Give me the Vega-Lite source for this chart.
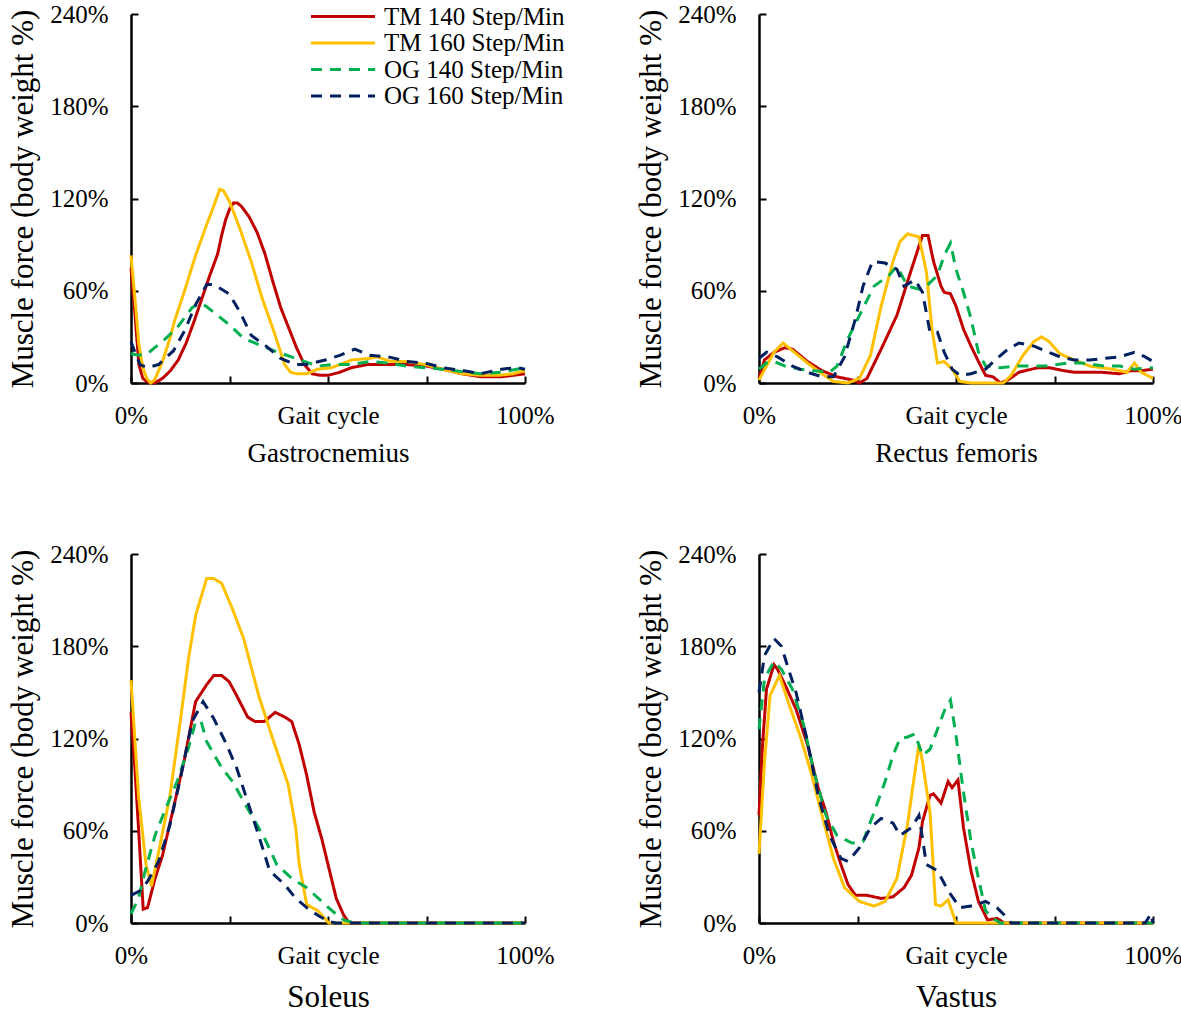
{
  "$schema": "https://vega.github.io/schema/vega-lite/v6.json",
  "padding": {"left": 7, "top": 2, "right": 0, "bottom": 0},
  "background": "white",
  "config": {
    "font": "Liberation Serif",
    "view": {"stroke": null},
    "axis": {"grid": false, "domainColor": "black", "domainWidth": 2.5, "tickColor": "black", "tickWidth": 2, "tickSize": -7, "labelFont": "Liberation Serif", "titleFont": "Liberation Serif", "labelColor": "black", "titleColor": "black", "titleFontWeight": "normal", "labelFontSize": 25, "labelOverlap": false, "labelBound": false, "labelFlush": false},
    "line": {"strokeWidth": 3}
  },
  "datasets": {
    "forces": [
      {"muscle":"Gastrocnemius","series":"TM 140 Step/Min","x":0,"y":75},{"muscle":"Gastrocnemius","series":"TM 140 Step/Min","x":1,"y":45},{"muscle":"Gastrocnemius","series":"TM 140 Step/Min","x":2,"y":12},{"muscle":"Gastrocnemius","series":"TM 140 Step/Min","x":3,"y":3},{"muscle":"Gastrocnemius","series":"TM 140 Step/Min","x":4,"y":1},{"muscle":"Gastrocnemius","series":"TM 140 Step/Min","x":5,"y":0},{"muscle":"Gastrocnemius","series":"TM 140 Step/Min","x":6,"y":0},{"muscle":"Gastrocnemius","series":"TM 140 Step/Min","x":8,"y":3},{"muscle":"Gastrocnemius","series":"TM 140 Step/Min","x":10,"y":8},{"muscle":"Gastrocnemius","series":"TM 140 Step/Min","x":12,"y":15},{"muscle":"Gastrocnemius","series":"TM 140 Step/Min","x":14,"y":26},{"muscle":"Gastrocnemius","series":"TM 140 Step/Min","x":16,"y":40},{"muscle":"Gastrocnemius","series":"TM 140 Step/Min","x":18,"y":55},{"muscle":"Gastrocnemius","series":"TM 140 Step/Min","x":20,"y":70},{"muscle":"Gastrocnemius","series":"TM 140 Step/Min","x":22,"y":84},{"muscle":"Gastrocnemius","series":"TM 140 Step/Min","x":23,"y":96},{"muscle":"Gastrocnemius","series":"TM 140 Step/Min","x":24,"y":106},{"muscle":"Gastrocnemius","series":"TM 140 Step/Min","x":25,"y":113},{"muscle":"Gastrocnemius","series":"TM 140 Step/Min","x":26,"y":117},{"muscle":"Gastrocnemius","series":"TM 140 Step/Min","x":27,"y":117},{"muscle":"Gastrocnemius","series":"TM 140 Step/Min","x":28,"y":115},{"muscle":"Gastrocnemius","series":"TM 140 Step/Min","x":30,"y":108},{"muscle":"Gastrocnemius","series":"TM 140 Step/Min","x":32,"y":98},{"muscle":"Gastrocnemius","series":"TM 140 Step/Min","x":34,"y":84},{"muscle":"Gastrocnemius","series":"TM 140 Step/Min","x":36,"y":66},{"muscle":"Gastrocnemius","series":"TM 140 Step/Min","x":38,"y":49},{"muscle":"Gastrocnemius","series":"TM 140 Step/Min","x":40,"y":36},{"muscle":"Gastrocnemius","series":"TM 140 Step/Min","x":42,"y":23},{"muscle":"Gastrocnemius","series":"TM 140 Step/Min","x":44,"y":12},{"muscle":"Gastrocnemius","series":"TM 140 Step/Min","x":46,"y":6},{"muscle":"Gastrocnemius","series":"TM 140 Step/Min","x":48,"y":5},{"muscle":"Gastrocnemius","series":"TM 140 Step/Min","x":50,"y":5},{"muscle":"Gastrocnemius","series":"TM 140 Step/Min","x":53,"y":7},{"muscle":"Gastrocnemius","series":"TM 140 Step/Min","x":56,"y":10},{"muscle":"Gastrocnemius","series":"TM 140 Step/Min","x":60,"y":12},{"muscle":"Gastrocnemius","series":"TM 140 Step/Min","x":65,"y":12},{"muscle":"Gastrocnemius","series":"TM 140 Step/Min","x":70,"y":12},{"muscle":"Gastrocnemius","series":"TM 140 Step/Min","x":75,"y":11},{"muscle":"Gastrocnemius","series":"TM 140 Step/Min","x":79,"y":9},{"muscle":"Gastrocnemius","series":"TM 140 Step/Min","x":84,"y":6},{"muscle":"Gastrocnemius","series":"TM 140 Step/Min","x":89,"y":4},{"muscle":"Gastrocnemius","series":"TM 140 Step/Min","x":94,"y":4},{"muscle":"Gastrocnemius","series":"TM 140 Step/Min","x":97,"y":5},{"muscle":"Gastrocnemius","series":"TM 140 Step/Min","x":100,"y":6},
      {"muscle":"Gastrocnemius","series":"TM 160 Step/Min","x":0,"y":83},{"muscle":"Gastrocnemius","series":"TM 160 Step/Min","x":1,"y":55},{"muscle":"Gastrocnemius","series":"TM 160 Step/Min","x":2,"y":25},{"muscle":"Gastrocnemius","series":"TM 160 Step/Min","x":3,"y":10},{"muscle":"Gastrocnemius","series":"TM 160 Step/Min","x":4,"y":3},{"muscle":"Gastrocnemius","series":"TM 160 Step/Min","x":5,"y":0},{"muscle":"Gastrocnemius","series":"TM 160 Step/Min","x":6,"y":2},{"muscle":"Gastrocnemius","series":"TM 160 Step/Min","x":8,"y":14},{"muscle":"Gastrocnemius","series":"TM 160 Step/Min","x":10,"y":30},{"muscle":"Gastrocnemius","series":"TM 160 Step/Min","x":11,"y":40},{"muscle":"Gastrocnemius","series":"TM 160 Step/Min","x":13.6,"y":60},{"muscle":"Gastrocnemius","series":"TM 160 Step/Min","x":16.4,"y":83},{"muscle":"Gastrocnemius","series":"TM 160 Step/Min","x":19.2,"y":103},{"muscle":"Gastrocnemius","series":"TM 160 Step/Min","x":21,"y":115},{"muscle":"Gastrocnemius","series":"TM 160 Step/Min","x":22.5,"y":126},{"muscle":"Gastrocnemius","series":"TM 160 Step/Min","x":23.5,"y":125},{"muscle":"Gastrocnemius","series":"TM 160 Step/Min","x":25,"y":118},{"muscle":"Gastrocnemius","series":"TM 160 Step/Min","x":27.7,"y":100},{"muscle":"Gastrocnemius","series":"TM 160 Step/Min","x":30.5,"y":79},{"muscle":"Gastrocnemius","series":"TM 160 Step/Min","x":33.3,"y":55},{"muscle":"Gastrocnemius","series":"TM 160 Step/Min","x":36.2,"y":34},{"muscle":"Gastrocnemius","series":"TM 160 Step/Min","x":39,"y":12},{"muscle":"Gastrocnemius","series":"TM 160 Step/Min","x":40.5,"y":7},{"muscle":"Gastrocnemius","series":"TM 160 Step/Min","x":42,"y":6},{"muscle":"Gastrocnemius","series":"TM 160 Step/Min","x":44.6,"y":6},{"muscle":"Gastrocnemius","series":"TM 160 Step/Min","x":47.4,"y":9},{"muscle":"Gastrocnemius","series":"TM 160 Step/Min","x":51,"y":10},{"muscle":"Gastrocnemius","series":"TM 160 Step/Min","x":56,"y":15},{"muscle":"Gastrocnemius","series":"TM 160 Step/Min","x":60.6,"y":16},{"muscle":"Gastrocnemius","series":"TM 160 Step/Min","x":62.4,"y":17},{"muscle":"Gastrocnemius","series":"TM 160 Step/Min","x":66,"y":14},{"muscle":"Gastrocnemius","series":"TM 160 Step/Min","x":70,"y":14},{"muscle":"Gastrocnemius","series":"TM 160 Step/Min","x":74.6,"y":12},{"muscle":"Gastrocnemius","series":"TM 160 Step/Min","x":79,"y":9},{"muscle":"Gastrocnemius","series":"TM 160 Step/Min","x":84,"y":6},{"muscle":"Gastrocnemius","series":"TM 160 Step/Min","x":88.7,"y":5},{"muscle":"Gastrocnemius","series":"TM 160 Step/Min","x":93.4,"y":5},{"muscle":"Gastrocnemius","series":"TM 160 Step/Min","x":97,"y":6},{"muscle":"Gastrocnemius","series":"TM 160 Step/Min","x":100,"y":8},
      {"muscle":"Gastrocnemius","series":"OG 140 Step/Min","x":0,"y":19},{"muscle":"Gastrocnemius","series":"OG 140 Step/Min","x":2,"y":18},{"muscle":"Gastrocnemius","series":"OG 140 Step/Min","x":4.2,"y":19},{"muscle":"Gastrocnemius","series":"OG 140 Step/Min","x":6,"y":23},{"muscle":"Gastrocnemius","series":"OG 140 Step/Min","x":8,"y":27},{"muscle":"Gastrocnemius","series":"OG 140 Step/Min","x":11.7,"y":36},{"muscle":"Gastrocnemius","series":"OG 140 Step/Min","x":15.5,"y":49},{"muscle":"Gastrocnemius","series":"OG 140 Step/Min","x":17.4,"y":52},{"muscle":"Gastrocnemius","series":"OG 140 Step/Min","x":19,"y":50},{"muscle":"Gastrocnemius","series":"OG 140 Step/Min","x":21,"y":46},{"muscle":"Gastrocnemius","series":"OG 140 Step/Min","x":24.9,"y":38},{"muscle":"Gastrocnemius","series":"OG 140 Step/Min","x":28.6,"y":29},{"muscle":"Gastrocnemius","series":"OG 140 Step/Min","x":32.4,"y":25},{"muscle":"Gastrocnemius","series":"OG 140 Step/Min","x":36.2,"y":21},{"muscle":"Gastrocnemius","series":"OG 140 Step/Min","x":41.8,"y":16},{"muscle":"Gastrocnemius","series":"OG 140 Step/Min","x":47.4,"y":11},{"muscle":"Gastrocnemius","series":"OG 140 Step/Min","x":51,"y":12},{"muscle":"Gastrocnemius","series":"OG 140 Step/Min","x":56,"y":12},{"muscle":"Gastrocnemius","series":"OG 140 Step/Min","x":60.6,"y":14},{"muscle":"Gastrocnemius","series":"OG 140 Step/Min","x":65,"y":13},{"muscle":"Gastrocnemius","series":"OG 140 Step/Min","x":70,"y":11},{"muscle":"Gastrocnemius","series":"OG 140 Step/Min","x":79,"y":9},{"muscle":"Gastrocnemius","series":"OG 140 Step/Min","x":88.7,"y":6},{"muscle":"Gastrocnemius","series":"OG 140 Step/Min","x":94,"y":7},{"muscle":"Gastrocnemius","series":"OG 140 Step/Min","x":100,"y":10},
      {"muscle":"Gastrocnemius","series":"OG 160 Step/Min","x":0,"y":27},{"muscle":"Gastrocnemius","series":"OG 160 Step/Min","x":1,"y":20},{"muscle":"Gastrocnemius","series":"OG 160 Step/Min","x":2.3,"y":12},{"muscle":"Gastrocnemius","series":"OG 160 Step/Min","x":4.2,"y":10},{"muscle":"Gastrocnemius","series":"OG 160 Step/Min","x":7,"y":12},{"muscle":"Gastrocnemius","series":"OG 160 Step/Min","x":10.8,"y":21},{"muscle":"Gastrocnemius","series":"OG 160 Step/Min","x":13.6,"y":34},{"muscle":"Gastrocnemius","series":"OG 160 Step/Min","x":16.4,"y":51},{"muscle":"Gastrocnemius","series":"OG 160 Step/Min","x":19.2,"y":64},{"muscle":"Gastrocnemius","series":"OG 160 Step/Min","x":21,"y":64},{"muscle":"Gastrocnemius","series":"OG 160 Step/Min","x":23,"y":61},{"muscle":"Gastrocnemius","series":"OG 160 Step/Min","x":24.9,"y":58},{"muscle":"Gastrocnemius","series":"OG 160 Step/Min","x":27.7,"y":46},{"muscle":"Gastrocnemius","series":"OG 160 Step/Min","x":30.5,"y":31},{"muscle":"Gastrocnemius","series":"OG 160 Step/Min","x":34.3,"y":24},{"muscle":"Gastrocnemius","series":"OG 160 Step/Min","x":38,"y":16},{"muscle":"Gastrocnemius","series":"OG 160 Step/Min","x":41.8,"y":12},{"muscle":"Gastrocnemius","series":"OG 160 Step/Min","x":44.6,"y":12},{"muscle":"Gastrocnemius","series":"OG 160 Step/Min","x":49.3,"y":15},{"muscle":"Gastrocnemius","series":"OG 160 Step/Min","x":53,"y":18},{"muscle":"Gastrocnemius","series":"OG 160 Step/Min","x":56.8,"y":22},{"muscle":"Gastrocnemius","series":"OG 160 Step/Min","x":60.6,"y":18},{"muscle":"Gastrocnemius","series":"OG 160 Step/Min","x":65.3,"y":17},{"muscle":"Gastrocnemius","series":"OG 160 Step/Min","x":70,"y":14},{"muscle":"Gastrocnemius","series":"OG 160 Step/Min","x":74.6,"y":13},{"muscle":"Gastrocnemius","series":"OG 160 Step/Min","x":79,"y":10},{"muscle":"Gastrocnemius","series":"OG 160 Step/Min","x":84.5,"y":8},{"muscle":"Gastrocnemius","series":"OG 160 Step/Min","x":88.7,"y":6},{"muscle":"Gastrocnemius","series":"OG 160 Step/Min","x":94,"y":9},{"muscle":"Gastrocnemius","series":"OG 160 Step/Min","x":98,"y":10},{"muscle":"Gastrocnemius","series":"OG 160 Step/Min","x":100,"y":9},

      {"muscle":"Rectus femoris","series":"TM 140 Step/Min","x":0,"y":3},{"muscle":"Rectus femoris","series":"TM 140 Step/Min","x":1.4,"y":15},{"muscle":"Rectus femoris","series":"TM 140 Step/Min","x":3.8,"y":20},{"muscle":"Rectus femoris","series":"TM 140 Step/Min","x":6.6,"y":23},{"muscle":"Rectus femoris","series":"TM 140 Step/Min","x":8.5,"y":22},{"muscle":"Rectus femoris","series":"TM 140 Step/Min","x":12.3,"y":14},{"muscle":"Rectus femoris","series":"TM 140 Step/Min","x":16,"y":8},{"muscle":"Rectus femoris","series":"TM 140 Step/Min","x":19.8,"y":4},{"muscle":"Rectus femoris","series":"TM 140 Step/Min","x":23.6,"y":2},{"muscle":"Rectus femoris","series":"TM 140 Step/Min","x":25.5,"y":0},{"muscle":"Rectus femoris","series":"TM 140 Step/Min","x":27.4,"y":3},{"muscle":"Rectus femoris","series":"TM 140 Step/Min","x":31,"y":22},{"muscle":"Rectus femoris","series":"TM 140 Step/Min","x":35,"y":44},{"muscle":"Rectus femoris","series":"TM 140 Step/Min","x":38.7,"y":74},{"muscle":"Rectus femoris","series":"TM 140 Step/Min","x":40.6,"y":89},{"muscle":"Rectus femoris","series":"TM 140 Step/Min","x":41.5,"y":96},{"muscle":"Rectus femoris","series":"TM 140 Step/Min","x":42.9,"y":96},{"muscle":"Rectus femoris","series":"TM 140 Step/Min","x":44.3,"y":79},{"muscle":"Rectus femoris","series":"TM 140 Step/Min","x":46.2,"y":63},{"muscle":"Rectus femoris","series":"TM 140 Step/Min","x":47,"y":59},{"muscle":"Rectus femoris","series":"TM 140 Step/Min","x":48.6,"y":58},{"muscle":"Rectus femoris","series":"TM 140 Step/Min","x":50,"y":50},{"muscle":"Rectus femoris","series":"TM 140 Step/Min","x":51.9,"y":35},{"muscle":"Rectus femoris","series":"TM 140 Step/Min","x":53.8,"y":24},{"muscle":"Rectus femoris","series":"TM 140 Step/Min","x":55.7,"y":14},{"muscle":"Rectus femoris","series":"TM 140 Step/Min","x":57.5,"y":5},{"muscle":"Rectus femoris","series":"TM 140 Step/Min","x":59.4,"y":4},{"muscle":"Rectus femoris","series":"TM 140 Step/Min","x":61.3,"y":0},{"muscle":"Rectus femoris","series":"TM 140 Step/Min","x":63.2,"y":2},{"muscle":"Rectus femoris","series":"TM 140 Step/Min","x":66,"y":7},{"muscle":"Rectus femoris","series":"TM 140 Step/Min","x":70.8,"y":10},{"muscle":"Rectus femoris","series":"TM 140 Step/Min","x":73.6,"y":10},{"muscle":"Rectus femoris","series":"TM 140 Step/Min","x":77.4,"y":8},{"muscle":"Rectus femoris","series":"TM 140 Step/Min","x":80,"y":7},{"muscle":"Rectus femoris","series":"TM 140 Step/Min","x":86.8,"y":7},{"muscle":"Rectus femoris","series":"TM 140 Step/Min","x":91.5,"y":6},{"muscle":"Rectus femoris","series":"TM 140 Step/Min","x":94.3,"y":8},{"muscle":"Rectus femoris","series":"TM 140 Step/Min","x":97,"y":8},{"muscle":"Rectus femoris","series":"TM 140 Step/Min","x":100,"y":9},
      {"muscle":"Rectus femoris","series":"TM 160 Step/Min","x":0,"y":2},{"muscle":"Rectus femoris","series":"TM 160 Step/Min","x":1.9,"y":11},{"muscle":"Rectus femoris","series":"TM 160 Step/Min","x":3.8,"y":20},{"muscle":"Rectus femoris","series":"TM 160 Step/Min","x":6.1,"y":26},{"muscle":"Rectus femoris","series":"TM 160 Step/Min","x":8.5,"y":21},{"muscle":"Rectus femoris","series":"TM 160 Step/Min","x":12.3,"y":13},{"muscle":"Rectus femoris","series":"TM 160 Step/Min","x":16,"y":6},{"muscle":"Rectus femoris","series":"TM 160 Step/Min","x":18.9,"y":1},{"muscle":"Rectus femoris","series":"TM 160 Step/Min","x":22.6,"y":0},{"muscle":"Rectus femoris","series":"TM 160 Step/Min","x":25.5,"y":3},{"muscle":"Rectus femoris","series":"TM 160 Step/Min","x":28.3,"y":18},{"muscle":"Rectus femoris","series":"TM 160 Step/Min","x":31,"y":50},{"muscle":"Rectus femoris","series":"TM 160 Step/Min","x":34,"y":79},{"muscle":"Rectus femoris","series":"TM 160 Step/Min","x":35.8,"y":92},{"muscle":"Rectus femoris","series":"TM 160 Step/Min","x":37.7,"y":97},{"muscle":"Rectus femoris","series":"TM 160 Step/Min","x":40.6,"y":95},{"muscle":"Rectus femoris","series":"TM 160 Step/Min","x":42.5,"y":72},{"muscle":"Rectus femoris","series":"TM 160 Step/Min","x":43.9,"y":35},{"muscle":"Rectus femoris","series":"TM 160 Step/Min","x":45.3,"y":13},{"muscle":"Rectus femoris","series":"TM 160 Step/Min","x":47,"y":14},{"muscle":"Rectus femoris","series":"TM 160 Step/Min","x":49,"y":9},{"muscle":"Rectus femoris","series":"TM 160 Step/Min","x":51,"y":1},{"muscle":"Rectus femoris","series":"TM 160 Step/Min","x":53.8,"y":0},{"muscle":"Rectus femoris","series":"TM 160 Step/Min","x":62,"y":0},{"muscle":"Rectus femoris","series":"TM 160 Step/Min","x":64,"y":5},{"muscle":"Rectus femoris","series":"TM 160 Step/Min","x":67,"y":18},{"muscle":"Rectus femoris","series":"TM 160 Step/Min","x":69.8,"y":27},{"muscle":"Rectus femoris","series":"TM 160 Step/Min","x":71.7,"y":30},{"muscle":"Rectus femoris","series":"TM 160 Step/Min","x":73.6,"y":27},{"muscle":"Rectus femoris","series":"TM 160 Step/Min","x":76.4,"y":19},{"muscle":"Rectus femoris","series":"TM 160 Step/Min","x":80,"y":15},{"muscle":"Rectus femoris","series":"TM 160 Step/Min","x":84,"y":11},{"muscle":"Rectus femoris","series":"TM 160 Step/Min","x":89.6,"y":9},{"muscle":"Rectus femoris","series":"TM 160 Step/Min","x":93.4,"y":7},{"muscle":"Rectus femoris","series":"TM 160 Step/Min","x":95.3,"y":13},{"muscle":"Rectus femoris","series":"TM 160 Step/Min","x":97,"y":7},{"muscle":"Rectus femoris","series":"TM 160 Step/Min","x":100,"y":3},
      {"muscle":"Rectus femoris","series":"OG 140 Step/Min","x":0,"y":9},{"muscle":"Rectus femoris","series":"OG 140 Step/Min","x":1.9,"y":13},{"muscle":"Rectus femoris","series":"OG 140 Step/Min","x":3.8,"y":14},{"muscle":"Rectus femoris","series":"OG 140 Step/Min","x":6.6,"y":11},{"muscle":"Rectus femoris","series":"OG 140 Step/Min","x":10.4,"y":9},{"muscle":"Rectus femoris","series":"OG 140 Step/Min","x":14,"y":8},{"muscle":"Rectus femoris","series":"OG 140 Step/Min","x":17.9,"y":7},{"muscle":"Rectus femoris","series":"OG 140 Step/Min","x":19.8,"y":11},{"muscle":"Rectus femoris","series":"OG 140 Step/Min","x":22.6,"y":29},{"muscle":"Rectus femoris","series":"OG 140 Step/Min","x":25.5,"y":44},{"muscle":"Rectus femoris","series":"OG 140 Step/Min","x":29.2,"y":63},{"muscle":"Rectus femoris","series":"OG 140 Step/Min","x":33,"y":70},{"muscle":"Rectus femoris","series":"OG 140 Step/Min","x":35,"y":76},{"muscle":"Rectus femoris","series":"OG 140 Step/Min","x":37.7,"y":63},{"muscle":"Rectus femoris","series":"OG 140 Step/Min","x":40.6,"y":61},{"muscle":"Rectus femoris","series":"OG 140 Step/Min","x":42.5,"y":63},{"muscle":"Rectus femoris","series":"OG 140 Step/Min","x":45.3,"y":70},{"muscle":"Rectus femoris","series":"OG 140 Step/Min","x":47,"y":83},{"muscle":"Rectus femoris","series":"OG 140 Step/Min","x":48.6,"y":91},{"muscle":"Rectus femoris","series":"OG 140 Step/Min","x":50,"y":74},{"muscle":"Rectus femoris","series":"OG 140 Step/Min","x":51.9,"y":59},{"muscle":"Rectus femoris","series":"OG 140 Step/Min","x":53.8,"y":42},{"muscle":"Rectus femoris","series":"OG 140 Step/Min","x":55.7,"y":20},{"muscle":"Rectus femoris","series":"OG 140 Step/Min","x":57.5,"y":11},{"muscle":"Rectus femoris","series":"OG 140 Step/Min","x":61.3,"y":10},{"muscle":"Rectus femoris","series":"OG 140 Step/Min","x":65,"y":11},{"muscle":"Rectus femoris","series":"OG 140 Step/Min","x":72.6,"y":11},{"muscle":"Rectus femoris","series":"OG 140 Step/Min","x":78.3,"y":13},{"muscle":"Rectus femoris","series":"OG 140 Step/Min","x":82,"y":13},{"muscle":"Rectus femoris","series":"OG 140 Step/Min","x":87.7,"y":11},{"muscle":"Rectus femoris","series":"OG 140 Step/Min","x":91.5,"y":11},{"muscle":"Rectus femoris","series":"OG 140 Step/Min","x":95.3,"y":9},{"muscle":"Rectus femoris","series":"OG 140 Step/Min","x":100,"y":10},
      {"muscle":"Rectus femoris","series":"OG 160 Step/Min","x":0,"y":16},{"muscle":"Rectus femoris","series":"OG 160 Step/Min","x":1.9,"y":20},{"muscle":"Rectus femoris","series":"OG 160 Step/Min","x":4.7,"y":17},{"muscle":"Rectus femoris","series":"OG 160 Step/Min","x":8.5,"y":11},{"muscle":"Rectus femoris","series":"OG 160 Step/Min","x":12.3,"y":7},{"muscle":"Rectus femoris","series":"OG 160 Step/Min","x":16,"y":4},{"muscle":"Rectus femoris","series":"OG 160 Step/Min","x":18.9,"y":4},{"muscle":"Rectus femoris","series":"OG 160 Step/Min","x":21.7,"y":17},{"muscle":"Rectus femoris","series":"OG 160 Step/Min","x":24.5,"y":42},{"muscle":"Rectus femoris","series":"OG 160 Step/Min","x":26.4,"y":63},{"muscle":"Rectus femoris","series":"OG 160 Step/Min","x":28.8,"y":79},{"muscle":"Rectus femoris","series":"OG 160 Step/Min","x":32,"y":78},{"muscle":"Rectus femoris","series":"OG 160 Step/Min","x":35,"y":74},{"muscle":"Rectus femoris","series":"OG 160 Step/Min","x":36.8,"y":63},{"muscle":"Rectus femoris","series":"OG 160 Step/Min","x":39.6,"y":67},{"muscle":"Rectus femoris","series":"OG 160 Step/Min","x":41.5,"y":59},{"muscle":"Rectus femoris","series":"OG 160 Step/Min","x":43.4,"y":33},{"muscle":"Rectus femoris","series":"OG 160 Step/Min","x":45.3,"y":33},{"muscle":"Rectus femoris","series":"OG 160 Step/Min","x":47,"y":20},{"muscle":"Rectus femoris","series":"OG 160 Step/Min","x":49,"y":9},{"muscle":"Rectus femoris","series":"OG 160 Step/Min","x":51,"y":5},{"muscle":"Rectus femoris","series":"OG 160 Step/Min","x":53.8,"y":6},{"muscle":"Rectus femoris","series":"OG 160 Step/Min","x":57.5,"y":9},{"muscle":"Rectus femoris","series":"OG 160 Step/Min","x":60.4,"y":16},{"muscle":"Rectus femoris","series":"OG 160 Step/Min","x":63.2,"y":22},{"muscle":"Rectus femoris","series":"OG 160 Step/Min","x":66,"y":26},{"muscle":"Rectus femoris","series":"OG 160 Step/Min","x":69.8,"y":24},{"muscle":"Rectus femoris","series":"OG 160 Step/Min","x":72.6,"y":21},{"muscle":"Rectus femoris","series":"OG 160 Step/Min","x":76.4,"y":17},{"muscle":"Rectus femoris","series":"OG 160 Step/Min","x":80,"y":15},{"muscle":"Rectus femoris","series":"OG 160 Step/Min","x":84,"y":15},{"muscle":"Rectus femoris","series":"OG 160 Step/Min","x":87.7,"y":16},{"muscle":"Rectus femoris","series":"OG 160 Step/Min","x":91.5,"y":17},{"muscle":"Rectus femoris","series":"OG 160 Step/Min","x":95.3,"y":20},{"muscle":"Rectus femoris","series":"OG 160 Step/Min","x":98,"y":17},{"muscle":"Rectus femoris","series":"OG 160 Step/Min","x":100,"y":14},

      {"muscle":"Soleus","series":"TM 140 Step/Min","x":0,"y":137},{"muscle":"Soleus","series":"TM 140 Step/Min","x":1,"y":100},{"muscle":"Soleus","series":"TM 140 Step/Min","x":1.9,"y":62},{"muscle":"Soleus","series":"TM 140 Step/Min","x":3.1,"y":9},{"muscle":"Soleus","series":"TM 140 Step/Min","x":4.2,"y":10},{"muscle":"Soleus","series":"TM 140 Step/Min","x":6.1,"y":29},{"muscle":"Soleus","series":"TM 140 Step/Min","x":8,"y":44},{"muscle":"Soleus","series":"TM 140 Step/Min","x":10.8,"y":75},{"muscle":"Soleus","series":"TM 140 Step/Min","x":13.6,"y":107},{"muscle":"Soleus","series":"TM 140 Step/Min","x":16.4,"y":144},{"muscle":"Soleus","series":"TM 140 Step/Min","x":19.2,"y":155},{"muscle":"Soleus","series":"TM 140 Step/Min","x":21,"y":161},{"muscle":"Soleus","series":"TM 140 Step/Min","x":23,"y":161},{"muscle":"Soleus","series":"TM 140 Step/Min","x":24.9,"y":157},{"muscle":"Soleus","series":"TM 140 Step/Min","x":26.8,"y":148},{"muscle":"Soleus","series":"TM 140 Step/Min","x":29.6,"y":134},{"muscle":"Soleus","series":"TM 140 Step/Min","x":31.5,"y":131},{"muscle":"Soleus","series":"TM 140 Step/Min","x":33.8,"y":131},{"muscle":"Soleus","series":"TM 140 Step/Min","x":36.6,"y":137},{"muscle":"Soleus","series":"TM 140 Step/Min","x":39,"y":134},{"muscle":"Soleus","series":"TM 140 Step/Min","x":40.8,"y":131},{"muscle":"Soleus","series":"TM 140 Step/Min","x":42.7,"y":116},{"muscle":"Soleus","series":"TM 140 Step/Min","x":44.6,"y":96},{"muscle":"Soleus","series":"TM 140 Step/Min","x":46.5,"y":72},{"muscle":"Soleus","series":"TM 140 Step/Min","x":48.4,"y":55},{"muscle":"Soleus","series":"TM 140 Step/Min","x":50.2,"y":36},{"muscle":"Soleus","series":"TM 140 Step/Min","x":52.1,"y":16},{"muscle":"Soleus","series":"TM 140 Step/Min","x":54,"y":5},{"muscle":"Soleus","series":"TM 140 Step/Min","x":55.4,"y":0},{"muscle":"Soleus","series":"TM 140 Step/Min","x":100,"y":0},
      {"muscle":"Soleus","series":"TM 160 Step/Min","x":0,"y":158},{"muscle":"Soleus","series":"TM 160 Step/Min","x":1.9,"y":83},{"muscle":"Soleus","series":"TM 160 Step/Min","x":3.8,"y":38},{"muscle":"Soleus","series":"TM 160 Step/Min","x":5.2,"y":24},{"muscle":"Soleus","series":"TM 160 Step/Min","x":7,"y":46},{"muscle":"Soleus","series":"TM 160 Step/Min","x":9.9,"y":83},{"muscle":"Soleus","series":"TM 160 Step/Min","x":12.7,"y":135},{"muscle":"Soleus","series":"TM 160 Step/Min","x":14.6,"y":172},{"muscle":"Soleus","series":"TM 160 Step/Min","x":16.4,"y":200},{"muscle":"Soleus","series":"TM 160 Step/Min","x":19.2,"y":224},{"muscle":"Soleus","series":"TM 160 Step/Min","x":21,"y":224},{"muscle":"Soleus","series":"TM 160 Step/Min","x":23,"y":221},{"muscle":"Soleus","series":"TM 160 Step/Min","x":25.8,"y":204},{"muscle":"Soleus","series":"TM 160 Step/Min","x":28.6,"y":185},{"muscle":"Soleus","series":"TM 160 Step/Min","x":32.4,"y":148},{"muscle":"Soleus","series":"TM 160 Step/Min","x":36.2,"y":118},{"muscle":"Soleus","series":"TM 160 Step/Min","x":39.9,"y":90},{"muscle":"Soleus","series":"TM 160 Step/Min","x":41.8,"y":62},{"muscle":"Soleus","series":"TM 160 Step/Min","x":42.7,"y":38},{"muscle":"Soleus","series":"TM 160 Step/Min","x":44.6,"y":12},{"muscle":"Soleus","series":"TM 160 Step/Min","x":47.4,"y":8},{"muscle":"Soleus","series":"TM 160 Step/Min","x":50.2,"y":0},{"muscle":"Soleus","series":"TM 160 Step/Min","x":100,"y":0},
      {"muscle":"Soleus","series":"OG 140 Step/Min","x":0,"y":6},{"muscle":"Soleus","series":"OG 140 Step/Min","x":1.9,"y":16},{"muscle":"Soleus","series":"OG 140 Step/Min","x":3.3,"y":31},{"muscle":"Soleus","series":"OG 140 Step/Min","x":6.1,"y":57},{"muscle":"Soleus","series":"OG 140 Step/Min","x":8.9,"y":75},{"muscle":"Soleus","series":"OG 140 Step/Min","x":11.7,"y":92},{"muscle":"Soleus","series":"OG 140 Step/Min","x":14.6,"y":114},{"muscle":"Soleus","series":"OG 140 Step/Min","x":16.4,"y":131},{"muscle":"Soleus","series":"OG 140 Step/Min","x":17.8,"y":131},{"muscle":"Soleus","series":"OG 140 Step/Min","x":19.2,"y":118},{"muscle":"Soleus","series":"OG 140 Step/Min","x":23,"y":101},{"muscle":"Soleus","series":"OG 140 Step/Min","x":25.8,"y":92},{"muscle":"Soleus","series":"OG 140 Step/Min","x":28.6,"y":79},{"muscle":"Soleus","series":"OG 140 Step/Min","x":31.5,"y":66},{"muscle":"Soleus","series":"OG 140 Step/Min","x":34.3,"y":53},{"muscle":"Soleus","series":"OG 140 Step/Min","x":37,"y":38},{"muscle":"Soleus","series":"OG 140 Step/Min","x":40.8,"y":29},{"muscle":"Soleus","series":"OG 140 Step/Min","x":44.6,"y":23},{"muscle":"Soleus","series":"OG 140 Step/Min","x":48.4,"y":14},{"muscle":"Soleus","series":"OG 140 Step/Min","x":51,"y":8},{"muscle":"Soleus","series":"OG 140 Step/Min","x":54,"y":2},{"muscle":"Soleus","series":"OG 140 Step/Min","x":56.8,"y":0},{"muscle":"Soleus","series":"OG 140 Step/Min","x":100,"y":0},
      {"muscle":"Soleus","series":"OG 160 Step/Min","x":0,"y":18},{"muscle":"Soleus","series":"OG 160 Step/Min","x":2.3,"y":21},{"muscle":"Soleus","series":"OG 160 Step/Min","x":4.2,"y":27},{"muscle":"Soleus","series":"OG 160 Step/Min","x":7,"y":40},{"muscle":"Soleus","series":"OG 160 Step/Min","x":9.9,"y":64},{"muscle":"Soleus","series":"OG 160 Step/Min","x":12.7,"y":96},{"muscle":"Soleus","series":"OG 160 Step/Min","x":15.5,"y":131},{"muscle":"Soleus","series":"OG 160 Step/Min","x":18.3,"y":144},{"muscle":"Soleus","series":"OG 160 Step/Min","x":21,"y":133},{"muscle":"Soleus","series":"OG 160 Step/Min","x":23.9,"y":118},{"muscle":"Soleus","series":"OG 160 Step/Min","x":26.8,"y":101},{"muscle":"Soleus","series":"OG 160 Step/Min","x":29.6,"y":79},{"muscle":"Soleus","series":"OG 160 Step/Min","x":32.4,"y":57},{"muscle":"Soleus","series":"OG 160 Step/Min","x":35.2,"y":34},{"muscle":"Soleus","series":"OG 160 Step/Min","x":39,"y":25},{"muscle":"Soleus","series":"OG 160 Step/Min","x":41.8,"y":16},{"muscle":"Soleus","series":"OG 160 Step/Min","x":44.6,"y":10},{"muscle":"Soleus","series":"OG 160 Step/Min","x":47.4,"y":5},{"muscle":"Soleus","series":"OG 160 Step/Min","x":50.2,"y":1},{"muscle":"Soleus","series":"OG 160 Step/Min","x":52,"y":0},{"muscle":"Soleus","series":"OG 160 Step/Min","x":100,"y":0},

      {"muscle":"Vastus","series":"TM 140 Step/Min","x":0,"y":70},{"muscle":"Vastus","series":"TM 140 Step/Min","x":0.9,"y":116},{"muscle":"Vastus","series":"TM 140 Step/Min","x":1.9,"y":152},{"muscle":"Vastus","series":"TM 140 Step/Min","x":3.8,"y":168},{"muscle":"Vastus","series":"TM 140 Step/Min","x":4.7,"y":165},{"muscle":"Vastus","series":"TM 140 Step/Min","x":6.6,"y":155},{"muscle":"Vastus","series":"TM 140 Step/Min","x":9.4,"y":139},{"muscle":"Vastus","series":"TM 140 Step/Min","x":12.3,"y":116},{"muscle":"Vastus","series":"TM 140 Step/Min","x":15,"y":88},{"muscle":"Vastus","series":"TM 140 Step/Min","x":17,"y":72},{"muscle":"Vastus","series":"TM 140 Step/Min","x":18.9,"y":53},{"muscle":"Vastus","series":"TM 140 Step/Min","x":20.8,"y":38},{"muscle":"Vastus","series":"TM 140 Step/Min","x":22.6,"y":25},{"muscle":"Vastus","series":"TM 140 Step/Min","x":24.5,"y":18},{"muscle":"Vastus","series":"TM 140 Step/Min","x":27.4,"y":18},{"muscle":"Vastus","series":"TM 140 Step/Min","x":31,"y":16},{"muscle":"Vastus","series":"TM 140 Step/Min","x":34,"y":17},{"muscle":"Vastus","series":"TM 140 Step/Min","x":36.8,"y":23},{"muscle":"Vastus","series":"TM 140 Step/Min","x":38.7,"y":31},{"muscle":"Vastus","series":"TM 140 Step/Min","x":40.6,"y":49},{"muscle":"Vastus","series":"TM 140 Step/Min","x":41.5,"y":66},{"muscle":"Vastus","series":"TM 140 Step/Min","x":43.4,"y":83},{"muscle":"Vastus","series":"TM 140 Step/Min","x":44.3,"y":84},{"muscle":"Vastus","series":"TM 140 Step/Min","x":46.2,"y":78},{"muscle":"Vastus","series":"TM 140 Step/Min","x":48,"y":92},{"muscle":"Vastus","series":"TM 140 Step/Min","x":49,"y":88},{"muscle":"Vastus","series":"TM 140 Step/Min","x":50.5,"y":93},{"muscle":"Vastus","series":"TM 140 Step/Min","x":51.9,"y":62},{"muscle":"Vastus","series":"TM 140 Step/Min","x":53.8,"y":34},{"muscle":"Vastus","series":"TM 140 Step/Min","x":55.7,"y":14},{"muscle":"Vastus","series":"TM 140 Step/Min","x":58,"y":2},{"muscle":"Vastus","series":"TM 140 Step/Min","x":60.4,"y":3},{"muscle":"Vastus","series":"TM 140 Step/Min","x":62.3,"y":0},{"muscle":"Vastus","series":"TM 140 Step/Min","x":100,"y":0},
      {"muscle":"Vastus","series":"TM 160 Step/Min","x":0,"y":45},{"muscle":"Vastus","series":"TM 160 Step/Min","x":1.4,"y":105},{"muscle":"Vastus","series":"TM 160 Step/Min","x":2.8,"y":148},{"muscle":"Vastus","series":"TM 160 Step/Min","x":5.2,"y":161},{"muscle":"Vastus","series":"TM 160 Step/Min","x":7.5,"y":143},{"muscle":"Vastus","series":"TM 160 Step/Min","x":10.4,"y":122},{"muscle":"Vastus","series":"TM 160 Step/Min","x":13.2,"y":98},{"muscle":"Vastus","series":"TM 160 Step/Min","x":16,"y":70},{"muscle":"Vastus","series":"TM 160 Step/Min","x":18.9,"y":42},{"muscle":"Vastus","series":"TM 160 Step/Min","x":21.7,"y":23},{"muscle":"Vastus","series":"TM 160 Step/Min","x":25.5,"y":14},{"muscle":"Vastus","series":"TM 160 Step/Min","x":29.2,"y":11},{"muscle":"Vastus","series":"TM 160 Step/Min","x":32,"y":14},{"muscle":"Vastus","series":"TM 160 Step/Min","x":35,"y":29},{"muscle":"Vastus","series":"TM 160 Step/Min","x":37.7,"y":64},{"muscle":"Vastus","series":"TM 160 Step/Min","x":39,"y":88},{"muscle":"Vastus","series":"TM 160 Step/Min","x":40.6,"y":116},{"muscle":"Vastus","series":"TM 160 Step/Min","x":41.5,"y":105},{"muscle":"Vastus","series":"TM 160 Step/Min","x":43.4,"y":72},{"muscle":"Vastus","series":"TM 160 Step/Min","x":44.8,"y":12},{"muscle":"Vastus","series":"TM 160 Step/Min","x":46.2,"y":11},{"muscle":"Vastus","series":"TM 160 Step/Min","x":48,"y":15},{"muscle":"Vastus","series":"TM 160 Step/Min","x":50,"y":0},{"muscle":"Vastus","series":"TM 160 Step/Min","x":100,"y":0},
      {"muscle":"Vastus","series":"OG 140 Step/Min","x":0,"y":126},{"muscle":"Vastus","series":"OG 140 Step/Min","x":1.4,"y":159},{"muscle":"Vastus","series":"OG 140 Step/Min","x":3.8,"y":170},{"muscle":"Vastus","series":"OG 140 Step/Min","x":5.7,"y":165},{"muscle":"Vastus","series":"OG 140 Step/Min","x":8.5,"y":152},{"muscle":"Vastus","series":"OG 140 Step/Min","x":11.3,"y":129},{"muscle":"Vastus","series":"OG 140 Step/Min","x":14,"y":98},{"muscle":"Vastus","series":"OG 140 Step/Min","x":17,"y":70},{"muscle":"Vastus","series":"OG 140 Step/Min","x":19.8,"y":57},{"muscle":"Vastus","series":"OG 140 Step/Min","x":23.6,"y":52},{"muscle":"Vastus","series":"OG 140 Step/Min","x":26.4,"y":53},{"muscle":"Vastus","series":"OG 140 Step/Min","x":29.2,"y":72},{"muscle":"Vastus","series":"OG 140 Step/Min","x":32,"y":92},{"muscle":"Vastus","series":"OG 140 Step/Min","x":34,"y":109},{"muscle":"Vastus","series":"OG 140 Step/Min","x":35.8,"y":120},{"muscle":"Vastus","series":"OG 140 Step/Min","x":37.7,"y":121},{"muscle":"Vastus","series":"OG 140 Step/Min","x":39.6,"y":123},{"muscle":"Vastus","series":"OG 140 Step/Min","x":41.5,"y":109},{"muscle":"Vastus","series":"OG 140 Step/Min","x":43.4,"y":113},{"muscle":"Vastus","series":"OG 140 Step/Min","x":45.3,"y":126},{"muscle":"Vastus","series":"OG 140 Step/Min","x":47.2,"y":139},{"muscle":"Vastus","series":"OG 140 Step/Min","x":48.6,"y":145},{"muscle":"Vastus","series":"OG 140 Step/Min","x":50,"y":122},{"muscle":"Vastus","series":"OG 140 Step/Min","x":51.9,"y":85},{"muscle":"Vastus","series":"OG 140 Step/Min","x":53.8,"y":53},{"muscle":"Vastus","series":"OG 140 Step/Min","x":55.7,"y":29},{"muscle":"Vastus","series":"OG 140 Step/Min","x":57.5,"y":8},{"muscle":"Vastus","series":"OG 140 Step/Min","x":59.4,"y":3},{"muscle":"Vastus","series":"OG 140 Step/Min","x":61.3,"y":0},{"muscle":"Vastus","series":"OG 140 Step/Min","x":100,"y":0},
      {"muscle":"Vastus","series":"OG 160 Step/Min","x":0,"y":150},{"muscle":"Vastus","series":"OG 160 Step/Min","x":1.4,"y":174},{"muscle":"Vastus","series":"OG 160 Step/Min","x":3.8,"y":185},{"muscle":"Vastus","series":"OG 160 Step/Min","x":5.7,"y":180},{"muscle":"Vastus","series":"OG 160 Step/Min","x":7.5,"y":165},{"muscle":"Vastus","series":"OG 160 Step/Min","x":9.4,"y":150},{"muscle":"Vastus","series":"OG 160 Step/Min","x":12.3,"y":118},{"muscle":"Vastus","series":"OG 160 Step/Min","x":15,"y":83},{"muscle":"Vastus","series":"OG 160 Step/Min","x":17.9,"y":57},{"muscle":"Vastus","series":"OG 160 Step/Min","x":20.8,"y":42},{"muscle":"Vastus","series":"OG 160 Step/Min","x":22.6,"y":40},{"muscle":"Vastus","series":"OG 160 Step/Min","x":25.5,"y":49},{"muscle":"Vastus","series":"OG 160 Step/Min","x":28.3,"y":62},{"muscle":"Vastus","series":"OG 160 Step/Min","x":31,"y":68},{"muscle":"Vastus","series":"OG 160 Step/Min","x":34,"y":65},{"muscle":"Vastus","series":"OG 160 Step/Min","x":35.8,"y":57},{"muscle":"Vastus","series":"OG 160 Step/Min","x":38.7,"y":62},{"muscle":"Vastus","series":"OG 160 Step/Min","x":40.6,"y":70},{"muscle":"Vastus","series":"OG 160 Step/Min","x":42.5,"y":38},{"muscle":"Vastus","series":"OG 160 Step/Min","x":45.3,"y":34},{"muscle":"Vastus","series":"OG 160 Step/Min","x":48,"y":21},{"muscle":"Vastus","series":"OG 160 Step/Min","x":51,"y":10},{"muscle":"Vastus","series":"OG 160 Step/Min","x":53.8,"y":11},{"muscle":"Vastus","series":"OG 160 Step/Min","x":57.5,"y":14},{"muscle":"Vastus","series":"OG 160 Step/Min","x":60.4,"y":10},{"muscle":"Vastus","series":"OG 160 Step/Min","x":62.3,"y":5},{"muscle":"Vastus","series":"OG 160 Step/Min","x":64,"y":0},{"muscle":"Vastus","series":"OG 160 Step/Min","x":98,"y":0},{"muscle":"Vastus","series":"OG 160 Step/Min","x":99.5,"y":6},{"muscle":"Vastus","series":"OG 160 Step/Min","x":100,"y":0}
    ]
  },
  "data": {"name": "forces"},
  "columns": 2,
  "bounds": "flush",
  "spacing": {"row": 171, "column": 234},
  "resolve": {"legend": {"color": "independent", "strokeDash": "independent"}},
  "concat": [
    {
      "width": 394, "height": 369,
      "transform": [{"filter": "datum.muscle == 'Gastrocnemius'"}],
      "mark": {"type": "line", "strokeWidth": 3},
      "encoding": {
        "x": {"field": "x", "type": "quantitative", "scale": {"domain": [0, 100], "nice": false, "zero": false},
          "axis": {"values": [0, 25, 50, 75, 100], "labelExpr": "datum.value == 0 ? '0%' : datum.value == 50 ? 'Gait cycle' : datum.value == 100 ? '100%' : ''", "labelPadding": 27, "title": "Gastrocnemius", "titleFontSize": 27, "titlePadding": 12}},
        "y": {"field": "y", "type": "quantitative", "scale": {"domain": [0, 240], "nice": false},
          "axis": {"values": [0, 60, 120, 180, 240], "labelExpr": "datum.value + '%'", "labelPadding": 30, "title": "Muscle force (body weight %)", "titleFontSize": 31, "titlePadding": 10}},
        "color": {"field": "series", "type": "nominal",
          "scale": {"domain": ["TM 140 Step/Min", "TM 160 Step/Min", "OG 140 Step/Min", "OG 160 Step/Min"], "range": ["#C00000", "#FFC000", "#00B050", "#002060"]},
          "legend": {"orient": "none", "legendX": 199.5, "legendY": -10, "title": null, "symbolType": "M-8,0H8", "symbolSize": 64, "symbolStrokeWidth": 3, "labelFontSize": 25, "labelFont": "Liberation Serif", "labelColor": "black", "labelOffset": 28.5, "rowPadding": 0.5, "labelLimit": 400, "padding": 0}},
        "strokeDash": {"field": "series", "type": "nominal",
          "scale": {"domain": ["TM 140 Step/Min", "TM 160 Step/Min", "OG 140 Step/Min", "OG 160 Step/Min"], "range": [[1, 0], [1, 0], [11, 8], [11, 8]]}}
      }
    },
    {
      "width": 394, "height": 369,
      "transform": [{"filter": "datum.muscle == 'Rectus femoris'"}],
      "mark": {"type": "line", "strokeWidth": 3},
      "encoding": {
        "x": {"field": "x", "type": "quantitative", "scale": {"domain": [0, 100], "nice": false, "zero": false},
          "axis": {"values": [0, 25, 50, 75, 100], "labelExpr": "datum.value == 0 ? '0%' : datum.value == 50 ? 'Gait cycle' : datum.value == 100 ? '100%' : ''", "labelPadding": 27, "title": "Rectus femoris", "titleFontSize": 27, "titlePadding": 12}},
        "y": {"field": "y", "type": "quantitative", "scale": {"domain": [0, 240], "nice": false},
          "axis": {"values": [0, 60, 120, 180, 240], "labelExpr": "datum.value + '%'", "labelPadding": 30, "title": "Muscle force (body weight %)", "titleFontSize": 31, "titlePadding": 10}},
        "color": {"field": "series", "type": "nominal",
          "scale": {"domain": ["TM 140 Step/Min", "TM 160 Step/Min", "OG 140 Step/Min", "OG 160 Step/Min"], "range": ["#C00000", "#FFC000", "#00B050", "#002060"]}, "legend": null},
        "strokeDash": {"field": "series", "type": "nominal",
          "scale": {"domain": ["TM 140 Step/Min", "TM 160 Step/Min", "OG 140 Step/Min", "OG 160 Step/Min"], "range": [[1, 0], [1, 0], [11, 8], [11, 8]]}, "legend": null}
      }
    },
    {
      "width": 394, "height": 369,
      "transform": [{"filter": "datum.muscle == 'Soleus'"}],
      "mark": {"type": "line", "strokeWidth": 3},
      "encoding": {
        "x": {"field": "x", "type": "quantitative", "scale": {"domain": [0, 100], "nice": false, "zero": false},
          "axis": {"values": [0, 25, 50, 75, 100], "labelExpr": "datum.value == 0 ? '0%' : datum.value == 50 ? 'Gait cycle' : datum.value == 100 ? '100%' : ''", "labelPadding": 27, "title": "Soleus", "titleFontSize": 31, "titlePadding": 14}},
        "y": {"field": "y", "type": "quantitative", "scale": {"domain": [0, 240], "nice": false},
          "axis": {"values": [0, 60, 120, 180, 240], "labelExpr": "datum.value + '%'", "labelPadding": 30, "title": "Muscle force (body weight %)", "titleFontSize": 31, "titlePadding": 10}},
        "color": {"field": "series", "type": "nominal",
          "scale": {"domain": ["TM 140 Step/Min", "TM 160 Step/Min", "OG 140 Step/Min", "OG 160 Step/Min"], "range": ["#C00000", "#FFC000", "#00B050", "#002060"]}, "legend": null},
        "strokeDash": {"field": "series", "type": "nominal",
          "scale": {"domain": ["TM 140 Step/Min", "TM 160 Step/Min", "OG 140 Step/Min", "OG 160 Step/Min"], "range": [[1, 0], [1, 0], [11, 8], [11, 8]]}, "legend": null}
      }
    },
    {
      "width": 394, "height": 369,
      "transform": [{"filter": "datum.muscle == 'Vastus'"}],
      "mark": {"type": "line", "strokeWidth": 3},
      "encoding": {
        "x": {"field": "x", "type": "quantitative", "scale": {"domain": [0, 100], "nice": false, "zero": false},
          "axis": {"values": [0, 25, 50, 75, 100], "labelExpr": "datum.value == 0 ? '0%' : datum.value == 50 ? 'Gait cycle' : datum.value == 100 ? '100%' : ''", "labelPadding": 27, "title": "Vastus", "titleFontSize": 31, "titlePadding": 14}},
        "y": {"field": "y", "type": "quantitative", "scale": {"domain": [0, 240], "nice": false},
          "axis": {"values": [0, 60, 120, 180, 240], "labelExpr": "datum.value + '%'", "labelPadding": 30, "title": "Muscle force (body weight %)", "titleFontSize": 31, "titlePadding": 10}},
        "color": {"field": "series", "type": "nominal",
          "scale": {"domain": ["TM 140 Step/Min", "TM 160 Step/Min", "OG 140 Step/Min", "OG 160 Step/Min"], "range": ["#C00000", "#FFC000", "#00B050", "#002060"]}, "legend": null},
        "strokeDash": {"field": "series", "type": "nominal",
          "scale": {"domain": ["TM 140 Step/Min", "TM 160 Step/Min", "OG 140 Step/Min", "OG 160 Step/Min"], "range": [[1, 0], [1, 0], [11, 8], [11, 8]]}, "legend": null}
      }
    }
  ]
}
